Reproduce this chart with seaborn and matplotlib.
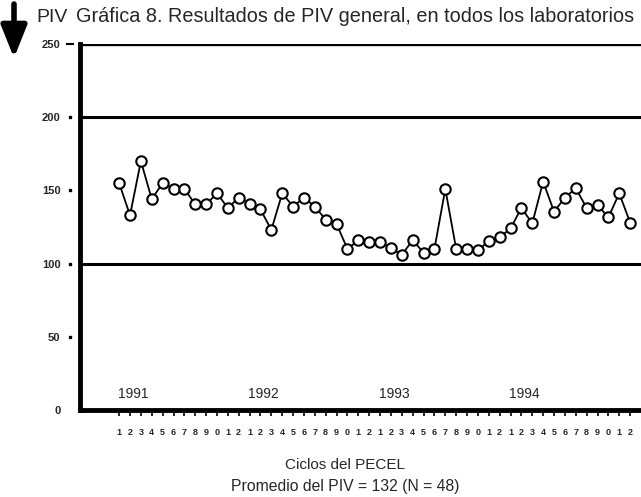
import numpy as np
import pandas as pd
import matplotlib.pyplot as plt
import seaborn as sns

# PIV per PECEL cycle, 1991-1994 (12 cycles a year)
years = ["1991", "1992", "1993", "1994"]
cycles = list(range(1, 49))
piv = [155, 133, 170, 144, 155, 151, 151, 140.5, 140.5, 148, 138, 145,
       141, 137, 123, 148, 139, 145, 139, 130, 127, 110, 116, 115,
       115, 110.7, 106, 116, 107.5, 110, 151, 110, 110, 109, 115.5, 118,
       124, 138, 127.5, 156, 135.5, 145, 151.5, 138, 140, 131.6, 148, 128]
cycle_labels = [str(c % 12 if c % 12 else 12)[-1] for c in cycles]
y_ticks = [50, 100, 150, 200]
ref_lines = [100, 200]

df = pd.DataFrame({"ciclo": cycles, "piv": piv})

sns.set_theme(style="white")
plt.rcParams['font.family'] = ['Liberation Sans', 'DejaVu Sans']

fig = plt.figure(figsize=(6.41, 4.97), dpi=100)
ax = fig.add_axes([80 / 641, 87 / 497, 1 - 80 / 641, (453 - 87) / 497])

sns.lineplot(data=df, x="ciclo", y="piv", ax=ax, color="black", lw=1.3,
             marker="o", markersize=7.5, markerfacecolor="white",
             markeredgecolor="black", markeredgewidth=1.5, zorder=3)

for v in ref_lines:
    ax.axhline(v, color="black", lw=2.2, zorder=1)
ax.axhline(250, color="black", lw=2.4, zorder=1)

ax.set_xlim(-2.6, 49.0)
ax.set_ylim(0, 250)
for s in ["top", "right"]:
    ax.spines[s].set_visible(False)
ax.spines["left"].set_linewidth(3.5)
ax.spines["bottom"].set_linewidth(3.5)
ax.spines["left"].set_color("black")
ax.spines["bottom"].set_color("black")

ax.set_xticks(cycles)
ax.set_xticklabels(cycle_labels, fontsize=6.5, fontweight="bold")
ax.tick_params(axis="x", direction="out", length=4, width=1.2, pad=9,
               color="black", bottom=True)
ax.set_yticks([0] + y_ticks + [250])
ax.set_yticklabels(["0"] + [str(v) for v in y_ticks] + ["250"],
                   fontsize=8, fontweight="bold")
ax.tick_params(axis="y", length=0, pad=14)

# dot ticks set off from the axis
tr = ax.get_yaxis_transform()
ax.plot([-0.018] * len(y_ticks), y_ticks, ls="none", marker="s", ms=1.8,
        color="black", transform=tr, clip_on=False)
ax.plot([-0.018], [250], ls="none", marker="_", ms=6, mew=1.5,
        color="black", transform=tr, clip_on=False)

ax.set_xlabel("")
ax.set_ylabel("")

for i, yr in enumerate(years):
    ax.text(2.3 + 12 * i, 6, yr, fontsize=10, ha="center", va="bottom")

fig.text(36 / 641, 1 - 17 / 497, "PIV", fontsize=14, ha="left", va="center")
fig.text(76 / 641, 1 - 17 / 497,
         "Gráfica 8. Resultados de PIV general, en todos los laboratorios",
         fontsize=14.3, ha="left", va="center")
fig.text(345 / 641, 1 - 465 / 497, "Ciclos del PECEL", fontsize=11,
         ha="center", va="center")
fig.text(345 / 641, 1 - 486 / 497, "Promedio del PIV = 132 (N = 48)",
         fontsize=11.3, ha="center", va="center")

ax.annotate("", xy=(14, 497 - 58), xytext=(14, 497 - 4),
            xycoords="figure pixels", textcoords="figure pixels",
            arrowprops=dict(arrowstyle="-|>,head_length=0.75,head_width=0.3",
                            lw=4, color="black",
                            mutation_scale=26, shrinkA=0, shrinkB=0))

fig.savefig("out.png", dpi=100)
